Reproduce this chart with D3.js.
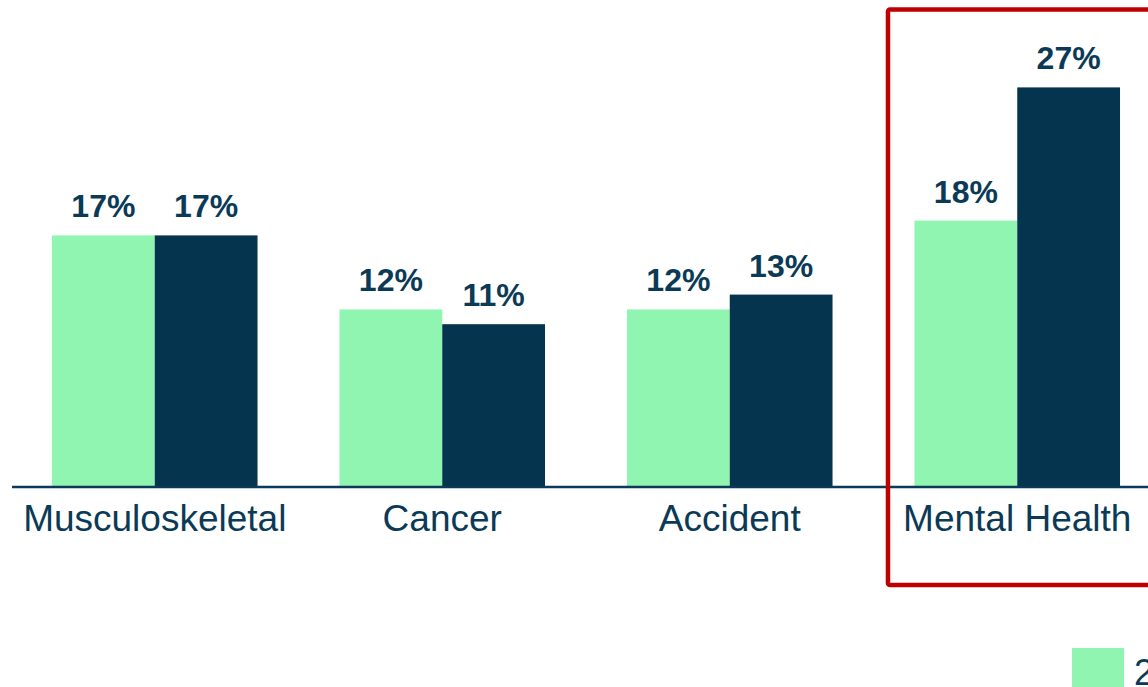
<!DOCTYPE html>
<html><head><meta charset="utf-8">
<script src="https://cdn.jsdelivr.net/npm/d3@7"></script>
<style>html,body{margin:0;padding:0;background:#fff;overflow:hidden}</style>
</head><body>
<svg id="c" width="1148" height="687"></svg>
<script>
const categories = ["Musculoskeletal", "Cancer", "Accident", "Mental Health"];
const seriesNames = ["2019", "2023"];
const seriesA = [17, 12, 12, 18];
const seriesB = [17, 11, 13, 27];
const highlighted = "Mental Health";

const colors = ["#90F5B0", "#05344F"];
const navy = "#0B3A56";
const W = 1148, H = 687;
const svg = d3.select("#c");
const base = 487;

const x0 = d3.scaleBand().domain(categories).range([11, 1161]).paddingInner(0.285).paddingOuter(0.1425);
const x1 = d3.scaleBand().domain(seriesNames).range([0, x0.bandwidth()]);
const y = d3.scaleLinear().domain([0, 30]).range([base, 43]);

const rows = categories.map((c, i) => ({cat: c, vals: [seriesA[i], seriesB[i]]}));

const g = svg.append("g");
const grp = g.selectAll("g.grp").data(rows).join("g").attr("class", "grp")
  .attr("transform", d => `translate(${x0(d.cat)},0)`);

grp.selectAll("rect").data(d => d.vals.map((v, j) => ({v, s: seriesNames[j], j})))
  .join("rect")
  .attr("x", d => x1(d.s))
  .attr("width", x1.bandwidth())
  .attr("y", d => y(d.v))
  .attr("height", d => base - y(d.v))
  .attr("fill", d => colors[d.j]);

grp.selectAll("text.val").data(d => d.vals.map((v, j) => ({v, s: seriesNames[j], j})))
  .join("text").attr("class", "val")
  .attr("x", d => x1(d.s) + x1.bandwidth() / 2)
  .attr("y", d => y(d.v) - 18)
  .attr("text-anchor", "middle")
  .attr("font-family", "Liberation Sans, Arial, sans-serif")
  .attr("font-weight", "bold")
  .attr("font-size", 32)
  .attr("fill", navy)
  .text(d => d.v + "%");

// axis line
g.append("line").attr("x1", 12).attr("x2", W).attr("y1", base).attr("y2", base)
  .attr("stroke", "#0B3A56").attr("stroke-width", 2.5);

// category labels
g.selectAll("text.cat").data(categories).join("text").attr("class", "cat")
  .attr("x", d => x0(d) + x0.bandwidth() / 2)
  .attr("y", 531)
  .attr("text-anchor", "middle")
  .attr("font-family", "Liberation Sans, Arial, sans-serif")
  .attr("font-size", 37)
  .attr("fill", navy)
  .text(d => d);

// highlight box
const hx = x0(highlighted);
svg.append("rect")
  .attr("x", hx - 26.5).attr("y", 9.5)
  .attr("width", 300).attr("height", 575.5)
  .attr("rx", 2)
  .attr("fill", "none").attr("stroke", "#C00000").attr("stroke-width", 4.5);

// legend (partially off-canvas, as in the reference)
const leg = svg.append("g").attr("transform", "translate(1072,648)");
seriesNames.forEach((s, i) => {
  const lg = leg.append("g").attr("transform", `translate(${i * 200},0)`);
  lg.append("rect").attr("width", 52).attr("height", 52).attr("fill", colors[i]);
  lg.append("text").attr("x", 62).attr("y", 37)
    .attr("font-family", "Liberation Sans, Arial, sans-serif")
    .attr("font-size", 36).attr("fill", navy).text(s);
});
</script>
</body></html>
